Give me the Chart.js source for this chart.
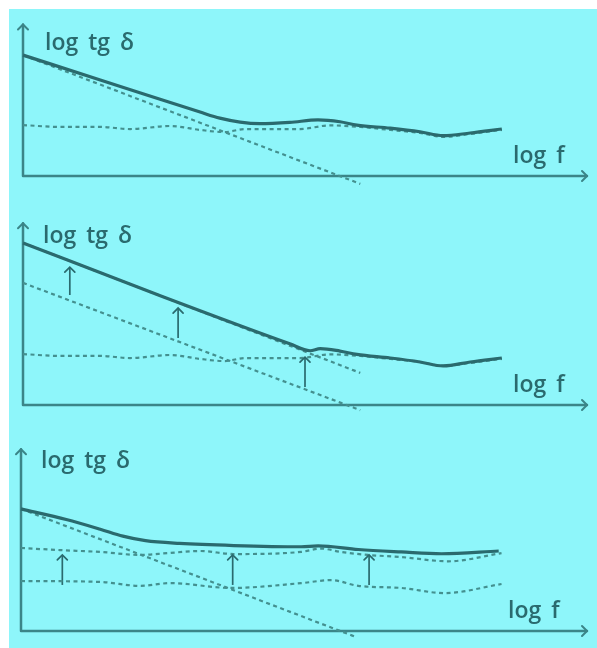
<!DOCTYPE html>
<html>
<head>
<meta charset="utf-8">
<script src="https://cdn.jsdelivr.net/npm/chart.js@4.4.1/dist/chart.umd.min.js"></script>
<style>
  html, body { margin: 0; padding: 0; background: #fff; }
  #bg { position: absolute; left: 9px; top: 9px; width: 588px; height: 639px; background: #8ef6fa; }
  canvas { position: absolute; left: 0; }
</style>
</head>
<body>
<div id="bg"></div>
<canvas id="c1" width="597" height="205" style="top:0"></canvas>
<canvas id="c2" width="597" height="220" style="top:205px"></canvas>
<canvas id="c3" width="597" height="223" style="top:425px"></canvas>
<script>
// values: x = log f, y = log tg delta (arbitrary units)
const yTitle = 'log tg δ';
const xTitle = 'log f';

// panel 1
const p1Total = [[0,3.99],[1.37,3.17],[2.25,2.64],[3.14,2.11],[3.49,1.91],[3.85,1.78],[4.20,1.73],[4.73,1.77],
  [5.23,1.85],[5.62,1.79],[5.92,1.68],[6.51,1.58],[7.04,1.46],[7.45,1.33],[7.93,1.42],[8.49,1.55]];
const p1Steep = [[0,3.99],[5.98,-0.26]];
const flatBase = [[0,1.68],[0.66,1.62],[1.37,1.62],[1.90,1.55],[2.61,1.65],[3.14,1.52],[3.58,1.45],[3.94,1.55],
  [4.91,1.55],[5.44,1.67],[5.98,1.62],[6.51,1.52],[7.04,1.42],[7.45,1.29],[7.93,1.39],[8.49,1.52]];

// panel 2
const p2Total = [[0,5.35],[2.4,3.63],[4.73,2.02],[5.09,1.79],[5.27,1.86],[5.62,1.78],[5.92,1.67],[6.51,1.55],
  [7.04,1.42],[7.45,1.29],[7.93,1.42],[8.49,1.55]];
const p2SteepUp = [[0,5.35],[5.98,1.06]];
const p2SteepLow = [[0,4.03],[5.98,-0.17]];
const p2Shift = [[0.83,3.63,4.55],[2.75,2.21,3.20],[5.00,0.59,1.58]];

// panel 3
const p3Total = [[0,4.03],[0.8,3.68],[1.4,3.36],[1.8,3.13],[2.2,2.98],[2.8,2.89],[3.76,2.82],[4.95,2.78],
  [5.25,2.81],[5.96,2.69],[6.72,2.61],[7.43,2.55],[8.44,2.64]];
const p3Steep = [[0,4.03],[5.92,-0.20]];
const p3FlatUp = [[0,2.74],[0.69,2.67],[1.40,2.61],[2.11,2.51],[2.59,2.57],[3.17,2.64],[3.76,2.54],[4.95,2.61],
  [5.30,2.72],[5.65,2.61],[6.13,2.51],[6.72,2.44],[7.55,2.30],[8.49,2.57]];
const p3FlatLow = [[0,1.65],[1.40,1.62],[2.11,1.49],[2.64,1.58],[3.71,1.42],[4.95,1.58],[5.48,1.68],[5.96,1.49],
  [6.72,1.42],[7.48,1.25],[8.49,1.55]];
const p3Shift = [[0.73,1.52,2.51],[3.74,1.52,2.51],[6.15,1.52,2.51]];

const DARK = '#2a6a6e';
const AXIS = '#3b8588';
const DASHC = '#44908f';

const pts = arr => arr.map(p => ({ x: p[0], y: p[1] }));

function solid(arr) {
  return { data: pts(arr), borderColor: DARK, borderWidth: 3.2, cubicInterpolationMode: 'monotone', clip: false };
}
function dashed(arr) {
  return { data: pts(arr), borderColor: DASHC, borderWidth: 2.2, borderDash: [4, 3.5],
    cubicInterpolationMode: 'monotone', clip: false };
}
function shifts(arr) {
  return arr.map(s => ({ data: [{ x: s[0], y: s[1] }, { x: s[0], y: s[2] }],
    borderColor: DARK, borderWidth: 1.7, arrow: true, clip: false }));
}

function head(ctx, x, y, dir, s) {
  ctx.beginPath();
  if (dir === 'up') {
    ctx.moveTo(x - s, y + s); ctx.lineTo(x, y); ctx.lineTo(x + s, y + s);
  } else {
    ctx.moveTo(x - s, y - s); ctx.lineTo(x, y); ctx.lineTo(x - s, y + s);
  }
  ctx.stroke();
}

const axesPlugin = {
  id: 'sketchAxes',
  beforeDatasetsDraw(chart, args, o) {
    const { ctx, chartArea: a } = chart;
    ctx.save();
    ctx.strokeStyle = AXIS;
    ctx.lineWidth = 2.5;
    ctx.lineCap = 'round';
    ctx.lineJoin = 'round';
    ctx.beginPath();
    ctx.moveTo(a.left, a.top);
    ctx.lineTo(a.left, a.bottom);
    ctx.lineTo(a.right, a.bottom);
    ctx.stroke();
    ctx.lineWidth = 2;
    head(ctx, a.left, a.top, 'up', 5);
    head(ctx, a.right, a.bottom, 'right', 5);
    ctx.fillStyle = DARK;
    ctx.font = '600 23px "Open Sans"';
    ctx.wordSpacing = '4px';
    ctx.fillText(yTitle, a.left + o.tx, a.top + o.ty);
    ctx.fillText(xTitle, a.right + o.fx, a.bottom - 13);
    ctx.restore();
  },
  afterDatasetsDraw(chart) {
    const ctx = chart.ctx;
    ctx.save();
    ctx.strokeStyle = DARK;
    ctx.lineWidth = 1.7;
    ctx.lineCap = 'round';
    chart.data.datasets.forEach((ds, i) => {
      if (!ds.arrow) return;
      const el = chart.getDatasetMeta(i).data;
      const p = el[el.length - 1];
      head(ctx, p.x, p.y, 'up', 5);
    });
    ctx.restore();
  }
};

function panel(id, datasets, ymax, pad, text) {
  return new Chart(document.getElementById(id), {
    type: 'line',
    data: { datasets },
    options: {
      responsive: false,
      animation: false,
      layout: { padding: pad },
      elements: { point: { radius: 0 } },
      plugins: { legend: { display: false }, tooltip: { enabled: false }, sketchAxes: text },
      scales: {
        x: { type: 'linear', min: 0, max: 10, display: false },
        y: { min: 0, max: ymax, display: false }
      }
    },
    plugins: [axesPlugin]
  });
}

panel('c1', [solid(p1Total), dashed(p1Steep), dashed(flatBase)], 5,
  { left: 23, right: 10, top: 24.5, bottom: 29 }, { tx: 22, ty: 25.5, fx: -74 });
panel('c2', [solid(p2Total), dashed(p2SteepUp), dashed(p2SteepLow), dashed(flatBase), ...shifts(p2Shift)], 6,
  { left: 23, right: 10, top: 18.2, bottom: 20 }, { tx: 20, ty: 20, fx: -74 });
panel('c3', [solid(p3Total), dashed(p3Steep), dashed(p3FlatUp), dashed(p3FlatLow), ...shifts(p3Shift)], 6,
  { left: 21, right: 10, top: 24.2, bottom: 17 }, { tx: 20, ty: 19, fx: -79 });
</script>
</body>
</html>
